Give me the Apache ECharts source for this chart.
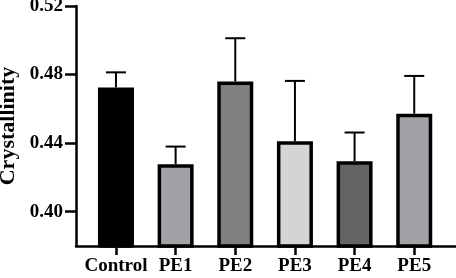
<!DOCTYPE html>
<html>
<head>
<meta charset="utf-8">
<script src="https://cdn.jsdelivr.net/npm/echarts@6/dist/echarts.min.js"></script>
<style>
  html, body { margin: 0; padding: 0; background: #fff; }
  #chart { width: 456px; height: 278px; }
</style>
</head>
<body>
<div id="chart"></div>
<script>
// data
var categories = ['Control', 'PE1', 'PE2', 'PE3', 'PE4', 'PE5'];
var means = [0.4725, 0.4277, 0.476, 0.4411, 0.4294, 0.4572];
var errors = [0.0088, 0.0103, 0.0252, 0.0352, 0.0168, 0.022];
var yTicks = [0.40, 0.44, 0.48, 0.52];

var barColors = ['#000000', '#a1a1a6', '#808080', '#d4d4d4', '#636363', '#a1a1a6'];
var font = 'Liberation Serif, Times New Roman, serif';

var chart = echarts.init(document.getElementById('chart'));

var barData = [];
var errData = [];
categories.forEach(function (c, i) {
  barData.push({ value: [i, means[i]], itemStyle: { color: barColors[i] } });
  errData.push([i, means[i], means[i] + errors[i]]);
});

var option = {
  animation: false,
  grid: { left: 76, right: 0, top: 6, bottom: 32, outerBoundsMode: 'none', containLabel: false },
  xAxis: {
    type: 'value',
    min: -0.67,
    max: 5.7,
    axisLine: { onZero: false, lineStyle: { color: '#000', width: 2.5 } },
    axisTick: { customValues: [0, 1, 2, 3, 4, 5], length: 9, lineStyle: { color: '#000', width: 2.5 } },
    axisLabel: {
      customValues: [0, 1, 2, 3, 4, 5],
      formatter: function (v) { return categories[Math.round(v)]; },
      color: '#000', fontFamily: font, fontWeight: 'bold', fontSize: 19, margin: 11
    },
    splitLine: { show: false }
  },
  yAxis: {
    type: 'value',
    min: 0.38,
    max: 0.52,
    name: 'Crystallinity',
    nameLocation: 'middle',
    nameGap: 55,
    nameTextStyle: { color: '#000', fontFamily: font, fontWeight: 'bold', fontSize: 22 },
    axisLine: { show: true, onZero: false, lineStyle: { color: '#000', width: 2.5 } },
    axisTick: { show: true, customValues: yTicks, length: 11, lineStyle: { color: '#000', width: 2.5 } },
    axisLabel: {
      customValues: yTicks,
      formatter: function (v) { return v.toFixed(2); },
      color: '#000', fontFamily: font, fontWeight: 'bold', fontSize: 19, margin: 13
    },
    splitLine: { show: false }
  },
  series: [
    {
      type: 'custom',
      z: 1,
      data: errData,
      renderItem: function (params, api) {
        var bot = api.coord([api.value(0), api.value(1)]);
        var top = api.coord([api.value(0), api.value(2)]);
        var style = { stroke: '#000', lineWidth: 2 };
        return {
          type: 'group',
          children: [
            { type: 'line', shape: { x1: top[0], y1: bot[1], x2: top[0], y2: top[1] }, style: style },
            { type: 'line', shape: { x1: top[0] - 10, y1: top[1], x2: top[0] + 10, y2: top[1] }, style: style }
          ]
        };
      }
    },
    {
      type: 'bar',
      z: 2,
      barWidth: 36,
      data: barData,
      itemStyle: { borderColor: '#000', borderWidth: 3.5 }
    }
  ]
};

chart.setOption(option);
</script>
</body>
</html>
